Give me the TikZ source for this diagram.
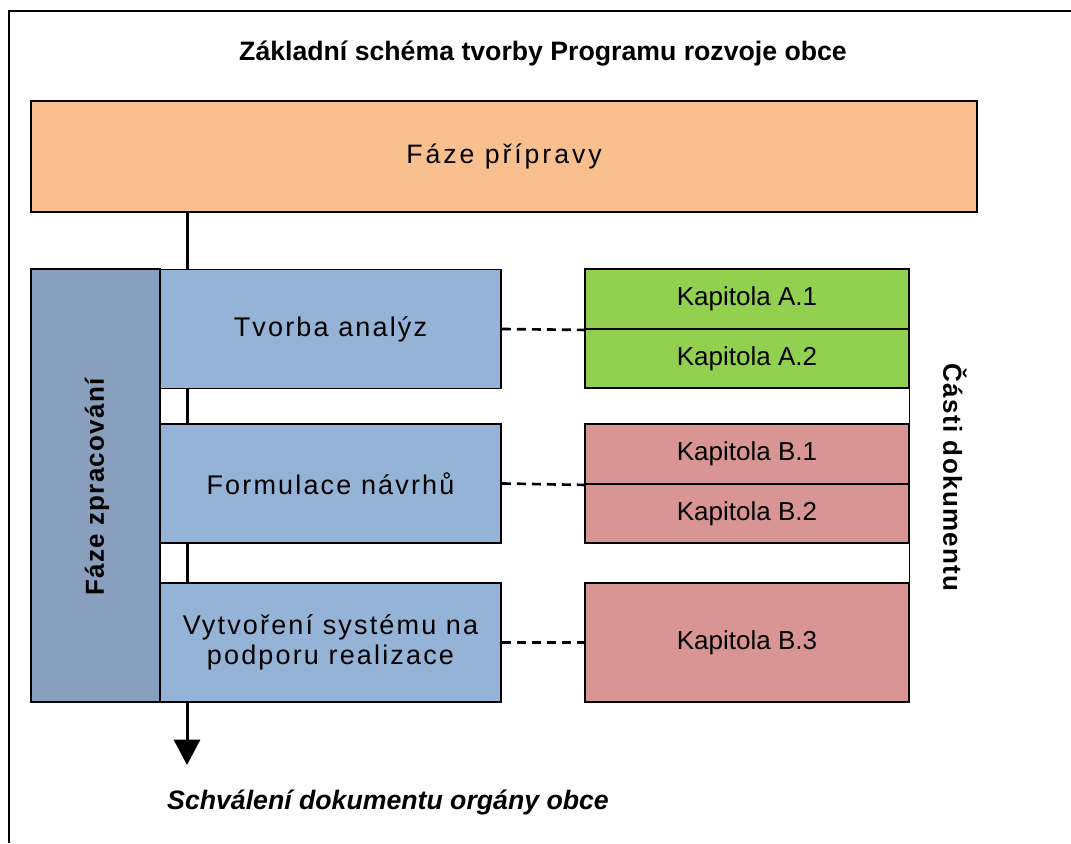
\documentclass[tikz,border=0pt]{standalone}
\usepackage{fontspec}
\setmainfont{Liberation Sans}
\newfontfamily\spacedfont{Liberation Sans}[LetterSpace=8]
\newfontfamily\widefont{Liberation Sans}[LetterSpace=11]
\newfontfamily\boldspaced{Liberation Sans}[LetterSpace=5,BoldFont={Liberation Sans Bold}]
\usetikzlibrary{arrows.meta}
\definecolor{prepOrange}{HTML}{F9BF8F}
\definecolor{phaseBlue}{HTML}{889FBE}
\definecolor{stepBlue}{HTML}{95B3D7}
\definecolor{partGreen}{HTML}{92D050}
\definecolor{partRed}{HTML}{D99594}
\tikzset{
  phasebox/.style={draw=black, line width=1.4pt, inner sep=0pt},
  sized/.style 2 args={minimum width=#1*0.75pt, minimum height=#2*0.75pt},
  stepbox/.style={phasebox, fill=stepBlue, align=center, sized={341}{119}, font=\spacedfont\fontsize{20.25}{22.5}\selectfont},
  partbox/.style={phasebox, sized={324}{#1}, font=\fontsize{19.5}{23}\selectfont},
  link/.style={line width=2pt, dash pattern=on 6.75pt off 4.5pt},
}

\begin{document}
\begin{tikzpicture}[x=0.75pt, y=-0.75pt]
			%%%%% START %%%%%
			\useasboundingbox (0, 0) rectangle (1071, 843);
			\draw[line width=1.5pt] (9, 843) -- (9, 11) -- (1071, 11);
			
			\node[font=\bfseries\fontsize{20}{24}\selectfont] (title) at (543, 54) {Základní schéma tvorby Programu rozvoje obce};
			
			\node[phasebox, fill=prepOrange, sized={946}{111}, font=\widefont\fontsize{20}{24}\selectfont] (prep) at (504, 156.5) {Fáze přípravy};
			
			\coordinate (tip) at (187, 765);
			\draw[line width=2.25pt, -{Triangle[width=19.5pt, length=19pt]}] (prep.south -| tip) -- (tip);
			
			\node[phasebox, fill=phaseBlue, sized={129}{433}] (work) at (95.5, 485.5) {};
			\node[rotate=90, font=\boldspaced\bfseries\fontsize{19.5}{23}\selectfont] (worklabel) at (97, 487) {Fáze zpracování};
			
			\node[stepbox] (analyzy) at (330.5, 329) {Tvorba analýz};
			\node[stepbox] (navrhy) at (330.5, 483.5) {Formulace návrhů};
			\node[stepbox] (system) at (330.5, 642.5) {Vytvoření systému na\\podporu realizace};
			
			\node[partbox=60, fill=partGreen] (a1) at (747, 299) {Kapitola A.1};
			\node[partbox=59, fill=partGreen] (a2) at (747, 358.5) {Kapitola A.2};
			\node[partbox=60, fill=partRed] (b1) at (747, 454) {Kapitola B.1};
			\node[partbox=59, fill=partRed] (b2) at (747, 513.5) {Kapitola B.2};
			\node[partbox=119, fill=partRed] (b3) at (747, 642.5) {Kapitola B.3};
			\draw[line width=0.8pt] (a1.north east) -- (b3.south east);
			
			\draw[link] (analyzy.east) -- (a1.south west);
			\draw[link] (navrhy.east) -- (b1.south west);
			\draw[link] (system.east) -- (b3.west);
			
			\node[rotate=-90, font=\boldspaced\bfseries\fontsize{19.5}{23}\selectfont] (parts) at (955, 477.5) {Části dokumentu};
			
			\node[font=\bfseries\itshape\fontsize{20}{24}\selectfont] (approval) at (388, 802) {Schválení dokumentu orgány obce};
			%%%%% END %%%%%
\end{tikzpicture}
\end{document}
